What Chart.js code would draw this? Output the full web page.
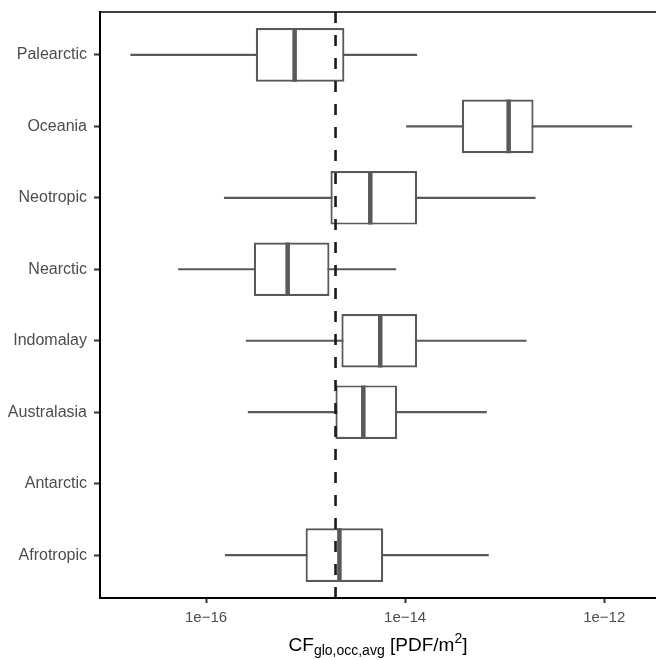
<!DOCTYPE html>
<html>
<head>
<meta charset="utf-8">
<script src="https://cdn.jsdelivr.net/npm/chart.js@4"></script>
<style>
  body { margin: 0; background: #fff; }
  #wrap { position: relative; width: 656px; height: 660px; }
  #xtitle {
    position: absolute; left: 100px; width: 556px; top: 635px;
    text-align: center; font-family: "Liberation Sans", Arial, sans-serif;
    font-size: 19px; color: #000; line-height: 20px;
  }
  #xtitle sub { font-size: 14px; vertical-align: -4px; line-height: 0; }
  #xtitle sup { font-size: 14px; vertical-align: 8px; line-height: 0; }
</style>
</head>
<body>
<div id="wrap">
  <canvas id="chart" width="656" height="660"></canvas>
  <div id="xtitle">CF<sub>glo,occ,avg</sub> [PDF/m<sup>2</sup>]</div>
</div>
<script>
// categories top to bottom
const regions = ['Palearctic', 'Oceania', 'Neotropic', 'Nearctic', 'Indomalay', 'Australasia', 'Antarctic', 'Afrotropic'];

// log10 of the box plot stats (null = no data)
const whiskerLo = [-16.76, -13.99, -15.82, -16.28, -15.60, -15.58, null, -15.81];
const q1 = [-15.50, -13.43, -14.75, -15.52, -14.64, -14.70, null, -15.00];
const median = [-15.11, -12.96, -14.35, -15.18, -14.25, -14.42, null, -14.66];
const q3 = [-14.61, -12.71, -13.88, -14.76, -13.88, -14.08, null, -14.22];
const whiskerHi = [-13.88, -11.72, -12.69, -14.09, -12.78, -13.18, null, -13.16];

const refLine = 2e-15;
const xTicks = [1e-16, 1e-14, 1e-12];

const pow = v => v == null ? null : Math.pow(10, v);
const boxHalf = 0.375;

const boxData = [], whiskerData = [], medianData = [];
regions.forEach((r, i) => {
  if (q1[i] == null) return;
  boxData.push({ x: [pow(q1[i]), pow(q3[i])], y: i });
  whiskerData.push({ x: pow(whiskerLo[i]), y: i }, { x: pow(whiskerHi[i]), y: i }, { x: null, y: i });
  medianData.push({ x: pow(median[i]), y: i - boxHalf }, { x: pow(median[i]), y: i + boxHalf }, { x: null, y: i });
});

const topBorder = {
  id: 'topBorder',
  afterDraw(chart) {
    const { ctx, chartArea } = chart;
    ctx.save();
    ctx.strokeStyle = '#000';
    ctx.lineWidth = 1.5;
    ctx.beginPath();
    ctx.moveTo(chartArea.left, chartArea.top);
    ctx.lineTo(chartArea.right, chartArea.top);
    ctx.stroke();
    ctx.restore();
  }
};

const fontFamily = '"Liberation Sans", Arial, sans-serif';

new Chart(document.getElementById('chart'), {
  type: 'bar',
  data: {
    datasets: [
      {
        type: 'line', data: [{ x: refLine, y: -0.6 }, { x: refLine, y: regions.length - 0.4 }],
        borderColor: '#1a1a1a', borderWidth: 2.6, borderDash: [11, 12], pointRadius: 0, order: 0
      },
      {
        type: 'line', data: medianData, borderColor: '#595959', borderWidth: 4.5,
        borderCapStyle: 'butt', pointRadius: 0, spanGaps: false, order: 1
      },
      {
        type: 'bar', data: boxData, backgroundColor: '#ffffff', borderColor: '#595959',
        borderWidth: 2.2, borderSkipped: false, barPercentage: 0.75, categoryPercentage: 1, order: 2
      },
      {
        type: 'line', data: whiskerData, borderColor: '#595959', borderWidth: 2.2,
        pointRadius: 0, spanGaps: false, order: 3
      }
    ]
  },
  options: {
    indexAxis: 'y',
    responsive: false,
    animation: false,
    layout: { padding: { top: 12, right: 0, left: 0, bottom: 0 } },
    plugins: { legend: { display: false }, tooltip: { enabled: false } },
    scales: {
      x: {
        type: 'logarithmic',
        min: Math.pow(10, -17.065),
        max: Math.pow(10, -11.48),
        afterBuildTicks: s => { s.ticks = xTicks.map(v => ({ value: v })); },
        afterFit: s => { s.height = 62; s.paddingLeft = 0; s.paddingRight = 0; },
        ticks: {
          color: '#4d4d4d', font: { family: fontFamily, size: 15 }, padding: 6, maxRotation: 0,
          callback: v => '1e\u2212' + Math.round(-Math.log10(v))
        },
        grid: { drawOnChartArea: false, tickLength: 5, tickColor: '#333', tickWidth: 2 },
        border: { color: '#000', width: 2 }
      },
      y: {
        type: 'linear',
        reverse: true,
        offset: false,
        min: -0.6,
        max: regions.length - 0.4,
        afterBuildTicks: s => { s.ticks = regions.map((r, i) => ({ value: i })); },
        afterFit: s => { s.width = 100; s.paddingTop = 0; s.paddingBottom = 0; },
        ticks: { color: '#4d4d4d', font: { family: fontFamily, size: 16 }, padding: 7, callback: v => regions[v] },
        grid: { offset: false, drawOnChartArea: false, tickLength: 6, tickColor: '#333', tickWidth: 2 },
        border: { color: '#000', width: 2 }
      }
    }
  },
  plugins: [topBorder]
});
</script>
</body>
</html>
